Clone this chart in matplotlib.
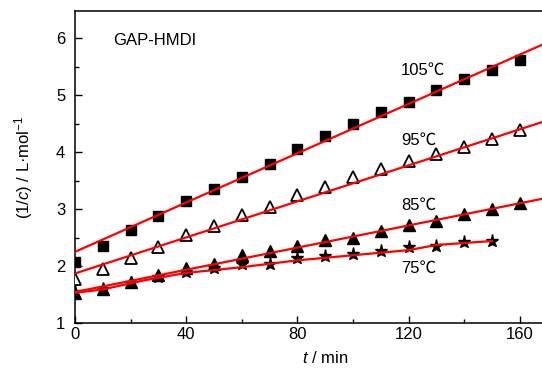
import matplotlib
matplotlib.use("Agg")
import matplotlib.pyplot as plt
from matplotlib.ticker import MultipleLocator

plt.rcParams['font.family'] = ['Liberation Sans', 'Noto Sans CJK SC', 'DejaVu Sans']
plt.rcParams['mathtext.fontset'] = 'custom'
plt.rcParams['mathtext.rm'] = 'Liberation Sans'
plt.rcParams['mathtext.it'] = 'Liberation Sans:italic'

# measured points, t in min, 1/c in L/mol
t = [0, 10, 20, 30, 40, 50, 60, 70, 80, 90, 100, 110, 120, 130, 140, 150, 160]
c105 = [2.07, 2.35, 2.63, 2.88, 3.14, 3.36, 3.57, 3.79, 4.05, 4.28, 4.50, 4.70, 4.88, 5.10, 5.28, 5.45, 5.62]
c95 = [1.78, 1.94, 2.15, 2.34, 2.54, 2.70, 2.90, 3.04, 3.24, 3.39, 3.57, 3.70, 3.84, 3.97, 4.09, 4.24, 4.39]
c85 = [1.53, 1.60, 1.72, 1.84, 1.97, 2.04, 2.19, 2.27, 2.36, 2.45, 2.50, 2.62, 2.73, 2.80, 2.92, 3.00, 3.11]
t75 = [0, 10, 20, 30, 40, 50, 60, 70, 80, 90, 100, 110, 120, 130, 140, 150]
c75 = [1.55, 1.60, 1.71, 1.80, 1.90, 1.96, 2.03, 2.04, 2.14, 2.18, 2.21, 2.26, 2.33, 2.35, 2.43, 2.44]

# red fit lines
fit_t = [0, 170]
fit105 = [2.25, 5.93]
fit95 = [1.87, 4.56]
fit85 = [1.545, 3.20]
fit75_t = [0, 10, 25, 40, 60, 80, 100, 120, 130, 150]
fit75 = [1.53, 1.59, 1.75, 1.88, 1.98, 2.10, 2.19, 2.28, 2.37, 2.44]

labels = ["105℃", "95℃", "85℃", "75℃"]
label_y = [5.44, 4.21, 3.07, 1.96]

fig = plt.figure(figsize=(5.42, 3.68), dpi=100)
ax = fig.add_axes([0.1384, 0.1223, 0.8616, 0.8478])

ax.plot(t75, c75, ls='none', marker='*', ms=9.5, color='black', zorder=3)
ax.plot(t, c85, ls='none', marker='^', ms=8, color='black', zorder=3)
ax.plot(t, c95, ls='none', marker='^', ms=8, mfc='white', mec='black', mew=1.3, zorder=3)
ax.plot(t, c105, ls='none', marker='s', ms=7.8, color='black', zorder=3)

for yy in [fit105, fit95, fit85]:
    ax.plot(fit_t, yy, color='red', lw=1.6, zorder=4)
ax.plot(fit75_t, fit75, color='red', lw=1.6, zorder=4)

for lab, yy in zip(labels, label_y):
    ax.text(117.3, yy, lab, fontsize=12, va='center', ha='left')
ax.text(0.082, 0.905, "GAP-HMDI", transform=ax.transAxes, fontsize=12, va='center', ha='left')

ax.set_xlim(0, 168)
ax.set_ylim(1, 6.48)
ax.xaxis.set_major_locator(MultipleLocator(40))
ax.xaxis.set_minor_locator(MultipleLocator(20))
ax.yaxis.set_major_locator(MultipleLocator(1))
ax.yaxis.set_minor_locator(MultipleLocator(0.5))
ax.tick_params(which='both', direction='in', top=False, right=False, labelsize=12, width=1.0)
ax.tick_params(which='major', length=5)
ax.tick_params(which='minor', length=3)
ax.tick_params(axis='y', pad=7)
ax.tick_params(axis='x', pad=3)
ax.spines['right'].set_visible(False)
for s in ['left', 'bottom', 'top']:
    ax.spines[s].set_linewidth(1.1)

ax.set_xlabel("$\\mathit{t}$ / min", fontsize=12)
ax.xaxis.set_label_coords(0.535, -0.088)
ax.set_ylabel("(1/$\\mathit{c}$) / L·mol$^{\\mathregular{-1}}$", fontsize=12)
ax.yaxis.set_label_coords(-0.085, 0.5)

fig.savefig("out.png", dpi=100)
